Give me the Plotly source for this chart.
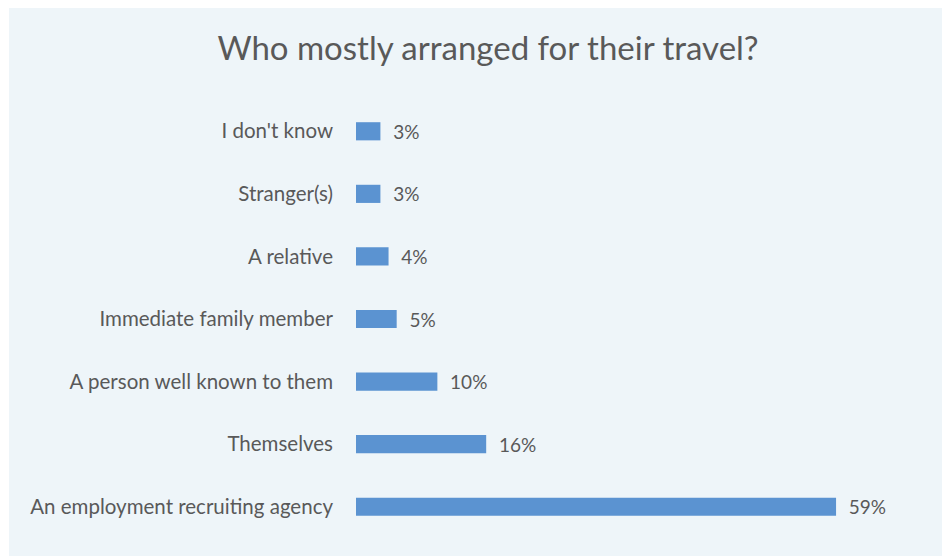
import plotly.graph_objects as go

categories = [
    "An employment recruiting agency",
    "Themselves",
    "A person well known to them",
    "Immediate family member",
    "A relative",
    "Stranger(s)",
    "I don't know",
]
shares = [59, 16, 10, 5, 4, 3, 3]
value_labels = ["59%", "16%", "10%", "5%", "4%", "3%", "3%"]

W, H = 942, 556
L, R, T, B = 356, 62, 100, 18
pw, ph = W - L - R, H - T - B

def px_x(p):
    return (p - L) / pw

def px_y(p):
    return (H - B - p) / ph

text_color = "#595959"
bar_color = "#5B93D1"
panel_color = "#EEF5F9"
font_family = "Lato, 'Open Sans', sans-serif"

fig = go.Figure(
    go.Bar(
        x=shares,
        y=categories,
        orientation="h",
        marker=dict(color=bar_color, line=dict(width=0)),
        width=0.29,
        text=["  " + t for t in value_labels],
        textposition="outside",
        constraintext="none",
        textfont=dict(color=text_color, size=19, family=font_family),
        cliponaxis=False,
    )
)

fig.update_layout(
    width=W,
    height=H,
    margin=dict(l=L, r=R, t=T, b=B),
    paper_bgcolor="white",
    plot_bgcolor="rgba(0,0,0,0)",
    showlegend=False,
    title=dict(
        text="Who mostly arranged for their travel?",
        font=dict(size=33, color=text_color, family=font_family),
        x=488 / W,
        xanchor="center",
        xref="container",
        y=1 - 48 / H,
        yanchor="middle",
        yref="container",
    ),
    xaxis=dict(
        range=[0, 64.4],
        visible=False,
        showgrid=False,
        zeroline=False,
    ),
    yaxis=dict(
        categoryorder="array",
        categoryarray=categories,
        showgrid=False,
        zeroline=False,
        showline=False,
        ticks="",
        ticklabelstandoff=22,
        tickfont=dict(size=20.5, color=text_color, family=font_family),
    ),
    shapes=[
        dict(
            type="rect",
            xref="paper",
            yref="paper",
            x0=px_x(9),
            x1=px_x(W + 5),
            y0=px_y(H + 5),
            y1=px_y(8),
            fillcolor=panel_color,
            line=dict(width=0),
            layer="below",
        )
    ],
)

fig.write_html("out.html")
